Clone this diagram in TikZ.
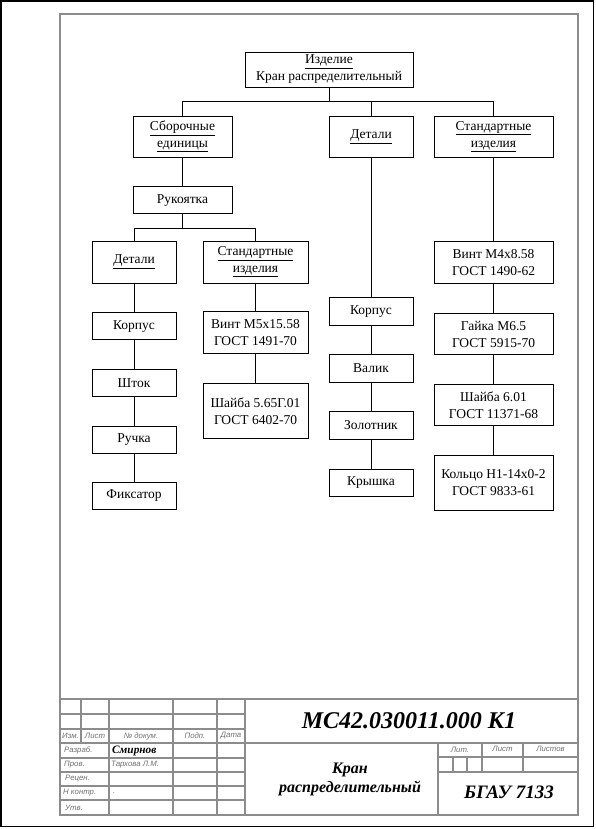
\documentclass[tikz,border=0pt]{standalone}
\usepackage{fontspec}
\setmainfont{Liberation Serif}
\newfontfamily\labelfont{Liberation Sans}
\usetikzlibrary{positioning}
\definecolor{framegray}{HTML}{8C8C8C}
\definecolor{labelgray}{HTML}{707070}

\tikzset{
  blk/.style={draw, line width=0.8pt, align=center, inner sep=1pt, minimum height=27pt,
    font=\fontsize{13.5}{17}\selectfont},
  tbline/.style={framegray, line width=1.4pt},
  tblabel/.style={inner sep=0pt, text=labelgray, font=\labelfont\itshape\fontsize{7.8}{9}\selectfont},
  tbtitle/.style={inner sep=0pt, align=center, font=\bfseries\itshape\fontsize{16}{19}\selectfont},
}

\begin{document}
\begin{tikzpicture}[x=1pt, y=-1pt, node distance=29pt]
\useasboundingbox (0,0) rectangle (595,829);
% sheet border and frame
\draw[line width=1.5pt] (1,1) rectangle (593.5,826.5);
\draw[tbline, line width=2pt] (60,14) rectangle (578,815);

% product tree
\node[blk, minimum width=168pt, minimum height=35pt] (root) at (329,69.5) {\underline{Изделие}\\Кран распределительный};
\node[blk, minimum width=99pt, minimum height=41pt] (sb) at (182.5,136.5) {\underline{Сборочные}\\\underline{единицы}};
\node[blk, minimum width=84pt, minimum height=41pt] (det) at (371,136.5) {\underline{Детали}};
\node[blk, minimum width=119pt, minimum height=41pt] (std) at (493.5,136.5) {\underline{Стандартные}\\\underline{изделия}};
\foreach \n in {sb, det, std}
  \draw[line width=0.8pt] (root.south) -- ++(0,14) -| (\n.north);

% assembly unit
\node[blk, minimum width=99pt, below=of sb] (ruk) {Рукоятка};
\node[blk, minimum width=84pt, minimum height=42pt] (det2) at (134,262) {\underline{Детали}};
\node[blk, minimum width=105pt, minimum height=42pt] (std2) at (255.5,262) {\underline{Стандартные}\\\underline{изделия}};
\foreach \n in {det2, std2}
  \draw[line width=0.8pt] (ruk.south) -- ++(0,14) -| (\n.north);
\node[blk, minimum width=84pt, below=of det2] (korp) {Корпус};
\node[blk, minimum width=84pt, below=of korp] (shtok) {Шток};
\node[blk, minimum width=84pt, below=of shtok] (ruch) {Ручка};
\node[blk, minimum width=84pt, below=28pt of ruch] (fiks) {Фиксатор};
\node[blk, minimum width=105pt, minimum height=42pt, below=28pt of std2] (vint5) {Винт М5х15.58\\ГОСТ 1491-70};
\node[blk, minimum width=105pt, minimum height=55pt, below=of vint5] (shayba5) {Шайба 5.65Г.01\\ГОСТ 6402-70};

% parts
\node[blk, minimum width=84pt, minimum height=28pt, below=140pt of det] (korp2) {Корпус};
\node[blk, minimum width=84pt, minimum height=28pt, below=28pt of korp2] (valik) {Валик};
\node[blk, minimum width=84pt, minimum height=28pt, below=28pt of valik] (zolot) {Золотник};
\node[blk, minimum width=84pt, below=of zolot] (kryshka) {Крышка};

% standard items
\node[blk, minimum width=119pt, minimum height=42pt, below=84pt of std] (vint4) {Винт М4х8.58\\ГОСТ 1490-62};
\node[blk, minimum width=119pt, minimum height=41pt, below=of vint4] (gayka) {Гайка М6.5\\ГОСТ 5915-70};
\node[blk, minimum width=119pt, minimum height=41pt, below=of gayka] (shayba6) {Шайба 6.01\\ГОСТ 11371-68};
\node[blk, minimum width=119pt, minimum height=55pt, below=of shayba6] (kolco) {Кольцо Н1-14х0-2\\ГОСТ 9833-61};

\foreach \a/\b in {sb/ruk, det2/korp, korp/shtok, shtok/ruch, ruch/fiks, std2/vint5, vint5/shayba5,
    det/korp2, korp2/valik, valik/zolot, zolot/kryshka, std/vint4, vint4/gayka, gayka/shayba6, shayba6/kolco}
  \draw[line width=0.8pt] (\a) -- (\b);

% title block
\draw[tbline, line width=2pt] (60,699) -- (578,699);
\foreach \y in {714, 729, 758, 772, 786, 800}
  \draw[tbline] (60,\y) -- (245,\y);
\draw[tbline, line width=2pt] (60,743) -- (578,743);
\draw[tbline] (81,699) -- (81,743);
\foreach \x in {109, 173, 217}
  \draw[tbline, line width=1.8pt] (\x,699) -- (\x,815);
\draw[tbline, line width=2pt] (245,699) -- (245,815);
\draw[tbline, line width=2pt] (438,743) -- (438,815);
\draw[tbline] (438,757) -- (578,757);
\draw[tbline, line width=2pt] (438,772) -- (578,772);
\foreach \x in {482, 523}
  \draw[tbline] (\x,743) -- (\x,772);
\foreach \x in {453, 467}
  \draw[tbline] (\x,757) -- (\x,772);

\node[tblabel] (izm) at (70.5,736) {Изм.};
\node[tblabel] (list) at (95,736) {Лист};
\node[tblabel] (ndok) at (141,736) {№ докум.};
\node[tblabel] (podp) at (195,736) {Подп.};
\node[tblabel] (data) at (231,736) {Дата};
\node[tblabel, anchor=west] (razrab) at (64,750.5) {Разраб.};
\node[tblabel, anchor=west] (prov) at (64,765) {Пров.};
\node[tblabel, anchor=west] (recen) at (65,779) {Рецен.};
\node[tblabel, anchor=west] (nkontr) at (63,793) {Н контр.};
\node[tblabel, anchor=west] (utv) at (65,807.5) {Утв.};
\node[inner sep=0pt, anchor=west, font=\bfseries\itshape\fontsize{11.3}{13}\selectfont] (razrabname) at (112,750.5) {Смирнов};
\node[tblabel, anchor=west] (provname) at (111,765) {Тархова Л.М.};
\node[tblabel, anchor=west] (nkontrname) at (113,793) {.};
\node[tblabel] (lit) at (460,750) {Лит.};
\node[tblabel] (sheet) at (502.5,749) {Лист};
\node[tblabel] (sheets) at (550.5,749) {Листов};

\node[tbtitle, font=\bfseries\itshape\fontsize{24}{27}\selectfont] (code) at (409,720.5) {МС42.030011.000 К1};
\node[tbtitle] (name) at (350,779) {Кран\\распределительный};
\node[tbtitle, font=\bfseries\itshape\fontsize{19}{21}\selectfont] (org) at (509,792) {БГАУ 7133};
\end{tikzpicture}
\end{document}
